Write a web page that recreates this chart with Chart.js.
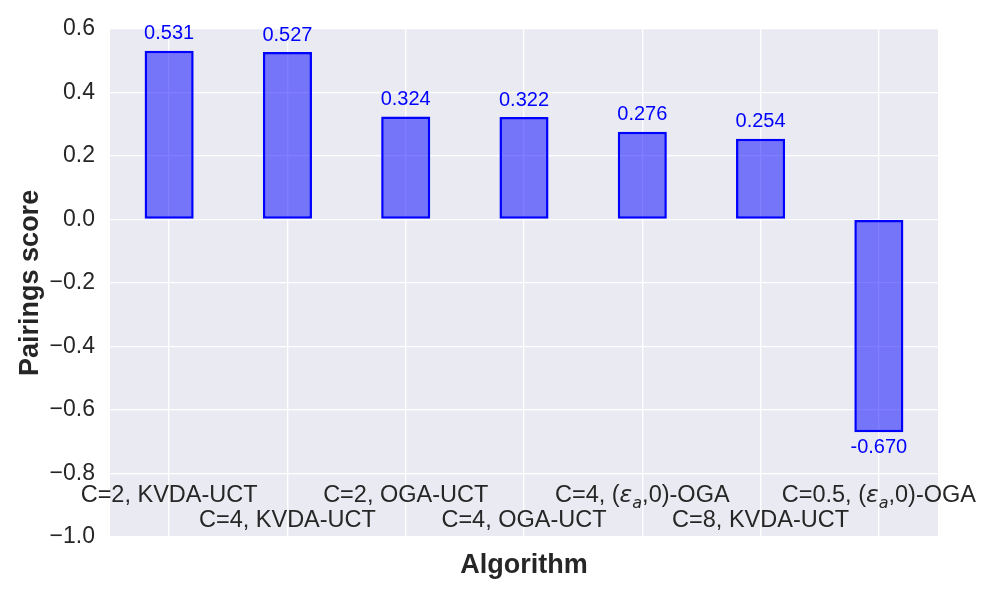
<!DOCTYPE html>
<html>
<head>
<meta charset="utf-8">
<script src="https://cdn.jsdelivr.net/npm/chart.js@4.4.0/dist/chart.umd.min.js"></script>
<style>
  html, body { margin: 0; padding: 0; background: #ffffff; }
  #wrap { width: 1000px; height: 600px; }
</style>
</head>
<body>
<div id="wrap"><canvas id="barChart"></canvas></div>
<script>
// data
const algorithms = [
    'C=2, KVDA-UCT',
    'C=4, KVDA-UCT',
    'C=2, OGA-UCT',
    'C=4, OGA-UCT',
    'C=4, (ε_a,0)-OGA',
    'C=8, KVDA-UCT',
    'C=0.5, (ε_a,0)-OGA'
];
const pairingScores = [0.531, 0.527, 0.324, 0.322, 0.276, 0.254, -0.670];
const yTicks = [-1.0, -0.8, -0.6, -0.4, -0.2, 0.0, 0.2, 0.4, 0.6];

const textColor = '#262626';
const fontFamily = '"Liberation Sans", Arial, sans-serif';

Chart.defaults.font.family = fontFamily;
Chart.defaults.color = textColor;

// draws a label, turning "ε_a" into italic epsilon with subscript a
function drawRichLabel(ctx, text, cx, baseline, size) {
    const parts = [];
    text.split(/(ε_a)/).forEach(p => {
        if (p === 'ε_a') {
            parts.push({ t: 'ε', font: `italic ${size}px "DejaVu Sans"`, dy: 0 });
            parts.push({ t: 'a', font: `italic ${Math.round(size * 0.7)}px "DejaVu Sans"`, dy: size * 0.24 });
        } else if (p) {
            parts.push({ t: p, font: `${size}px ${fontFamily}`, dy: 0 });
        }
    });
    let total = 0;
    parts.forEach(p => {
        ctx.font = p.font;
        p.w = ctx.measureText(p.t).width;
        total += p.w;
    });
    let x = cx - total / 2;
    ctx.textAlign = 'left';
    ctx.textBaseline = 'alphabetic';
    parts.forEach(p => {
        ctx.font = p.font;
        ctx.fillText(p.t, x, baseline + p.dy);
        x += p.w;
    });
}

const plotBackground = {
    id: 'plotBackground',
    beforeDraw(chart) {
        const { ctx, chartArea: a } = chart;
        ctx.save();
        ctx.fillStyle = '#EAEAF2';
        ctx.fillRect(a.left, a.top, a.right - a.left, a.bottom - a.top);
        ctx.restore();
    }
};

// staggered category labels, drawn inside the bottom of the plot like the original
const staggeredLabels = {
    id: 'staggeredLabels',
    afterDraw(chart) {
        const { ctx } = chart;
        const xScale = chart.scales.x;
        ctx.save();
        ctx.fillStyle = textColor;
        algorithms.forEach((label, i) => {
            const cx = xScale.getPixelForValue(i);
            const baseline = i % 2 === 0 ? 502 : 527;
            drawRichLabel(ctx, label, cx, baseline, 23.5);
        });
        ctx.restore();
    }
};

// value annotations above / below each bar
const valueLabels = {
    id: 'valueLabels',
    afterDatasetsDraw(chart) {
        const { ctx } = chart;
        const meta = chart.getDatasetMeta(0);
        ctx.save();
        ctx.fillStyle = '#0000ff';
        ctx.font = `20px ${fontFamily}`;
        ctx.textAlign = 'center';
        meta.data.forEach((bar, i) => {
            const v = pairingScores[i];
            if (v >= 0) {
                ctx.textBaseline = 'bottom';
                ctx.fillText(v.toFixed(3), bar.x, bar.y - 7);
            } else {
                ctx.textBaseline = 'top';
                ctx.fillText(v.toFixed(3), bar.x, bar.y + 5);
            }
        });
        ctx.restore();
    }
};

const ctx = document.getElementById('barChart').getContext('2d');

new Chart(ctx, {
    type: 'bar',
    data: {
        labels: algorithms,
        datasets: [{
            label: 'Pairings score',
            data: pairingScores,
            backgroundColor: 'rgba(0, 0, 255, 0.5)',
            borderColor: '#0000ff',
            borderWidth: 2.5,
            borderSkipped: false,
            barPercentage: 0.415,
            categoryPercentage: 1.0
        }]
    },
    options: {
        responsive: true,
        maintainAspectRatio: false,
        animation: false,
        layout: { padding: { top: 27, right: 62, left: 0, bottom: 0 } },
        plugins: {
            legend: { display: false },
            tooltip: { enabled: false }
        },
        scales: {
            x: {
                grid: { color: '#ffffff', lineWidth: 1.3, offset: false, drawTicks: false },
                border: { display: false },
                ticks: { display: false },
                title: {
                    display: true,
                    text: 'Algorithm',
                    font: { size: 27, weight: 'bold' },
                    color: textColor,
                    padding: { top: 0, bottom: 18 }
                },
                afterFit(scale) { scale.height = 63; }
            },
            y: {
                min: -1.0,
                max: 0.6,
                afterBuildTicks(scale) {
                    scale.ticks = yTicks.map(v => ({ value: v }));
                },
                grid: { color: '#ffffff', lineWidth: 1.3, drawTicks: false },
                border: { display: false },
                ticks: {
                    padding: 15,
                    font: { size: 23 },
                    color: textColor,
                    callback: v => v.toFixed(1).replace('-', '\u2212')
                },
                title: {
                    display: true,
                    text: 'Pairings score',
                    font: { size: 27, weight: 'bold' },
                    color: textColor,
                    padding: { top: 14, bottom: 0 }
                },
                afterFit(scale) { scale.width = 110; }
            }
        }
    },
    plugins: [plotBackground, staggeredLabels, valueLabels]
});
</script>
</body>
</html>
